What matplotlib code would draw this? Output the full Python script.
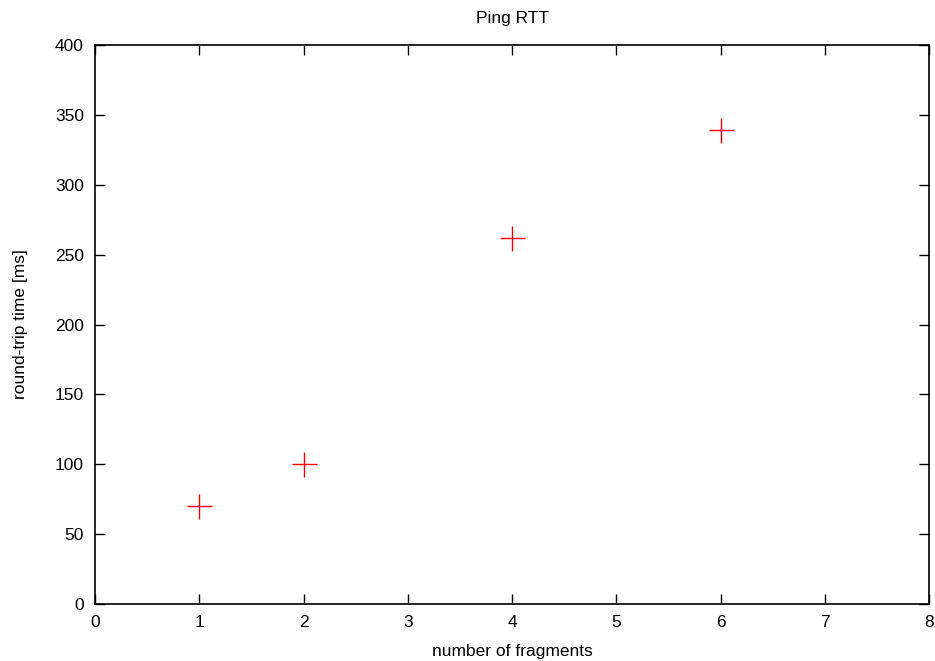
import matplotlib
matplotlib.use("Agg")
import matplotlib.pyplot as plt

fragments = [1, 2, 4, 6]
rtt_ms = [70, 100, 262, 339]

plt.rcParams['font.family'] = ['Liberation Sans', 'DejaVu Sans']

fig = plt.figure(figsize=(9.35, 6.61), dpi=100)
ax = fig.add_axes([0.1016, 0.0862, 0.8920, 0.8457])

ax.plot(fragments, rtt_ms, linestyle='none', marker='+', markersize=18,
        markeredgewidth=1.0, color='#ff0000')

ax.set_xlim(0, 8)
ax.set_ylim(0, 400)
ax.set_xticks(range(0, 9))
ax.set_yticks(range(0, 401, 50))
ax.tick_params(direction='in', length=7, width=1, top=True, right=True,
               labelsize=12.5, pad=8)
for s in ax.spines.values():
    s.set_linewidth(1.2)

ax.set_title('Ping RTT', fontsize=12.5, pad=16)
ax.set_xlabel('number of fragments', fontsize=12.5, labelpad=10)
ax.set_ylabel('round-trip time [ms]', fontsize=12.5, labelpad=19)

fig.savefig('out.png', dpi=100)
